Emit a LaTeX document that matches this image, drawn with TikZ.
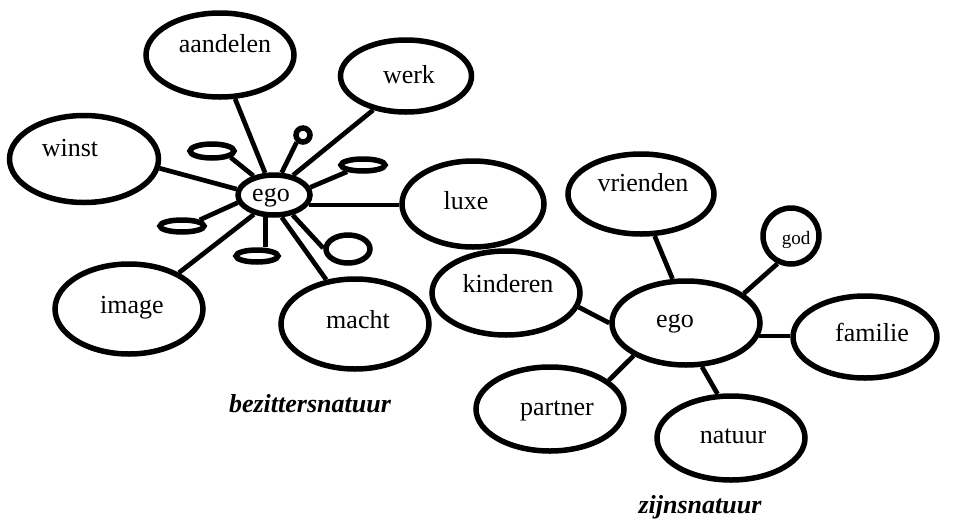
\documentclass[tikz,border=0pt]{standalone}
\usepackage{fontspec}
\setmainfont{Liberation Serif}
\usetikzlibrary{shapes.geometric}
\begin{document}
\begin{tikzpicture}[x=1pt,y=-1pt,
  bub/.style={ellipse,draw,line width=5.5pt,inner sep=0pt,fill=white},
  conn/.style={line width=4.7pt},
  txt/.style={anchor=base,inner sep=0pt,font=\fontsize{26}{30}\selectfont},
  smalltxt/.style={anchor=base,inner sep=0pt,font=\fontsize{19}{22}\selectfont},
  captxt/.style={anchor=base,inner sep=0pt,font=\fontsize{26}{30}\selectfont\bfseries\itshape}]
\useasboundingbox (0,0) rectangle (975,528);

% ---- possession cluster ----
\node[bub,minimum width=148,minimum height=84] (aandelen) at (220,55) {};
\node[bub,minimum width=131,minimum height=72] (werk) at (406,76) {};
\node[bub,minimum width=149,minimum height=87] (winst) at (84,159) {};
\node[bub,minimum width=72,minimum height=40] (egoL) at (274,195) {};
\node[bub,minimum width=44,minimum height=14] (s1) at (212,151) {};
\node[bub,minimum width=14,minimum height=14] (c1) at (303,135) {};
\node[bub,minimum width=44,minimum height=12] (s2) at (363,165) {};
\node[bub,minimum width=44,minimum height=12] (s3) at (182,226) {};
\node[bub,minimum width=42,minimum height=12] (s4) at (257,256) {};
\node[bub,minimum width=44,minimum height=28] (s5) at (348,249) {};
\node[bub,minimum width=142,minimum height=86] (luxe) at (473,204) {};
\node[bub,minimum width=148,minimum height=90] (image) at (129,309) {};
\node[bub,minimum width=148,minimum height=90] (macht) at (355,324) {};

\node[txt] (taandelen) at (225,52) {aandelen};
\node[txt] (twerk) at (409,83) {werk};
\node[txt] (twinst) at (70,156) {winst};
\node[txt] (tegoL) at (271,201) {ego};
\node[txt] (tluxe) at (466,209) {luxe};
\node[txt] (timage) at (132,313) {image};
\node[txt] (tmacht) at (358,328) {macht};

\draw[conn] (aandelen.-71.6) -- (egoL.112);
\draw[conn] (werk.-134) -- (egoL.46);
\draw[conn] (winst.-7.5) -- (egoL.171);
\draw[conn] (c1.-131) -- (egoL.71);
\draw[conn] (s1.-19) -- (egoL.137);
\draw[conn] (s2.-157) -- (egoL.12.5);
\draw[conn] (egoL.-16) -- (egoL.-16 -| luxe.west);
\draw[conn] (s3.19) -- (egoL.-168);
\draw[conn] (egoL.-136) -- (image.36);
\draw[conn] (egoL.-111) -- (egoL.-111 |- s4.north);
\draw[conn] (egoL.-71.6) -- (macht.123);
\draw[conn] (egoL.-47) -- (s5.178);

% ---- being cluster ----
\node[bub,minimum width=146,minimum height=80] (vrienden) at (641,194) {};
\node[bub,minimum width=56,minimum height=56] (god) at (791,236) {};
\node[bub,minimum width=148,minimum height=84] (kinderen) at (506,293) {};
\node[bub,minimum width=148,minimum height=84] (egoR) at (686,323) {};
\node[bub,minimum width=144,minimum height=82] (familie) at (865,337) {};
\node[bub,minimum width=148,minimum height=84] (partner) at (550,409) {};
\node[bub,minimum width=148,minimum height=84] (natuur) at (731,438) {};

\node[txt] (tvrienden) at (643,191) {vrienden};
\node[smalltxt] (tgod) at (796,244) {god};
\node[txt] (tkinderen) at (508,292) {kinderen};
\node[txt] (tegoR) at (675,327) {ego};
\node[txt] (tfamilie) at (872,341) {familie};
\node[txt] (tpartner) at (557,415) {partner};
\node[txt] (tnatuur) at (733,443) {natuur};

\draw[conn] (vrienden.-72) -- (egoR.107);
\draw[conn] (god.-116) -- (egoR.27);
\draw[conn] (kinderen.-11) -- (egoR.180);
\draw[conn] (egoR.-10) -- (egoR.-10 -| familie.west);
\draw[conn] (partner.26.6) -- (egoR.-148);
\draw[conn] (egoR.-70) -- (natuur.107);

% ---- captions ----
\node[captxt] (bezit) at (310,412) {bezittersnatuur};
\node[captxt] (zijn) at (700,513) {zijnsnatuur};
\end{tikzpicture}
\end{document}
